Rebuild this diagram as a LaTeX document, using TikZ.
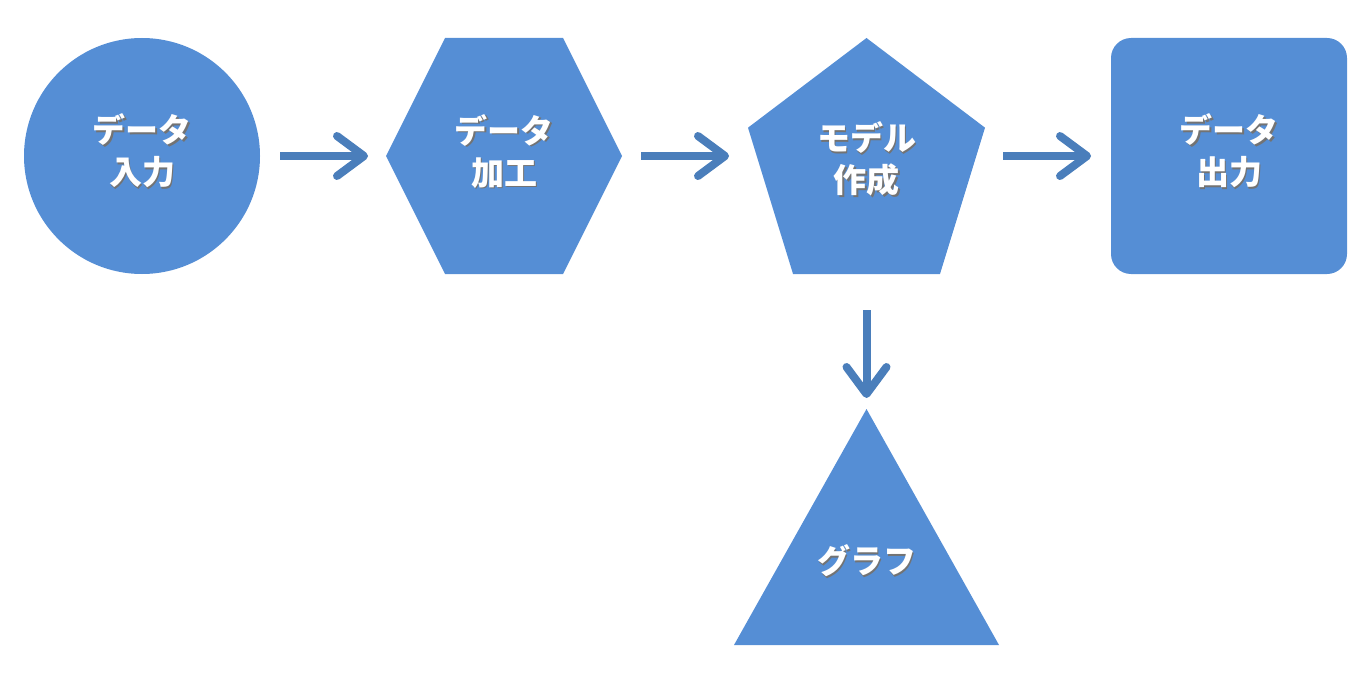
\documentclass[tikz,border=0pt]{standalone}
\usepackage{fontspec}
\newfontfamily\jpfont{Noto Sans CJK JP}
\usetikzlibrary{arrows.meta, calc, backgrounds}
\definecolor{cfill}{HTML}{558ED5}
\definecolor{carrow}{HTML}{4A7EBB}
\newcommand\shd[1]{\makebox[0pt][l]{\kern1.8pt\raisebox{-1.8pt}{\textcolor{black!55}{#1}}}#1}
\tikzset{
  shapebox/.style={fill=cfill, draw=none, minimum width=236pt, minimum height=236pt, inner sep=0pt, outer sep=0pt},
  plainbox/.style={draw=none, minimum width=#1, minimum height=236pt, inner sep=0pt, outer sep=0pt},
  plainbox/.default=236pt,
  flow/.style={-{Straight Barb[length=27pt, width=40pt, round]}, draw=carrow, line width=8pt},
  lbl/.style={text=white, align=center, font=\jpfont\bfseries\fontsize{33}{42}\selectfont},
}

\begin{document}
\begin{tikzpicture}[x=1pt, y=-1pt]
  \useasboundingbox (0,0) rectangle (1370,685);
  \node[shapebox, circle, minimum size=236pt] (input) at (142,156) {};
  \node[plainbox] (prep) at (504,156) {};
  \node[plainbox=237pt] (model) at (866.5,156) {};
  \node[shapebox, rounded corners=20pt] (output) at (1229,156) {};
  \node[plainbox=265pt] (graph) at (866.5,527) {};
  \begin{scope}[on background layer]
  \fill[cfill] (prep.west) -- ($(prep.north west)!0.25!(prep.north east)$) -- ($(prep.north west)!0.75!(prep.north east)$)
    -- (prep.east) -- ($(prep.south west)!0.75!(prep.south east)$) -- ($(prep.south west)!0.25!(prep.south east)$) -- cycle;
  \fill[cfill] (model.north) -- ($(model.north east)!0.38!(model.south east)$) -- ($(model.south west)!0.81!(model.south east)$)
    -- ($(model.south west)!0.19!(model.south east)$) -- ($(model.north west)!0.38!(model.south west)$) -- cycle;
  \fill[cfill] (graph.north) -- (graph.south east) -- (graph.south west) -- cycle;
  \end{scope}
  % labels
  \node[lbl] (inputtext) at (142,152) {\shd{データ}\\\shd{入力}};
  \node[lbl] (preptext) at (504,152) {\shd{データ}\\\shd{加工}};
  \node[lbl] (modeltext) at (866.5,160) {\shd{モデル}\\\shd{作成}};
  \node[lbl] (outputtext) at (1229,152) {\shd{データ}\\\shd{出力}};
  \node[lbl] (graphtext) at (866.5,562) {\shd{グラフ}};
  % connectors
  \draw[flow, shorten <=20pt, shorten >=18pt] (input) -- (prep);
  \draw[flow, shorten <=19pt, shorten >=19pt] (prep) -- (model);
  \draw[flow, shorten <=18pt, shorten >=20pt] (model) -- (output);
  \draw[flow, shorten <=36pt, shorten >=11pt] (model.south) -- (graph.north);
\end{tikzpicture}
\end{document}
